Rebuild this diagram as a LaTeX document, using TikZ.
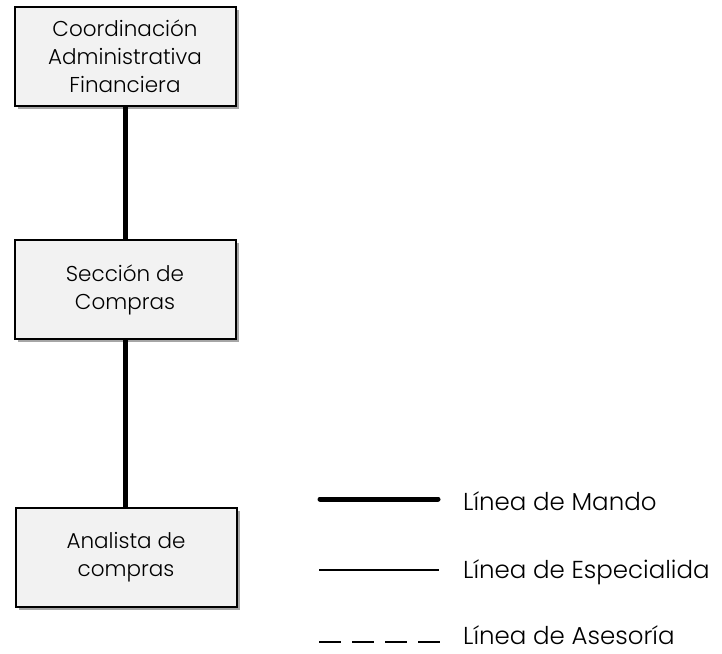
\documentclass[tikz,border=0pt]{standalone}
\usepackage{fontspec}
\setmainfont{Poppins}[UprightFont={* Light}]
\begin{document}
\begin{tikzpicture}[x=1pt,y=-1pt,
  orgbox/.style={draw=black, line width=2pt, fill=black!5, minimum width=221pt, minimum height=99pt, align=center, font=\fontsize{21.5}{28}\selectfont, inner sep=0pt},
  shadowbox/.style={fill=black!35, draw=none, minimum width=221pt, minimum height=99pt, inner sep=0pt},
  mando/.style={line width=5pt},
  espec/.style={line width=2pt},
  ases/.style={line width=2.2pt, dash pattern=on 22pt off 11pt},
  legtext/.style={anchor=west, font=\fontsize{24.5}{28}\selectfont, inner sep=0pt}
]
\useasboundingbox (0,0) rectangle (722,653);
% shadows
\node[shadowbox] at (128.5,59.5) {};
\node[shadowbox] at (128.5,292.5) {};
\node[shadowbox] at (129.5,560.5) {};
% boxes
\node[orgbox] (a) at (125,56.5) {Coordinación\\Administrativa\\Financiera};
\node[orgbox] (b) at (125,289.5) {Sección de\\Compras};
\node[orgbox] (c) at (126,557.5) {Analista de\\compras};
% connectors
\draw[mando] (a.south) -- (b.north);
\draw[mando] (b.south) -- (c.north -| b.south);
% legend
\coordinate (m1) at (320,499);
\coordinate (m2) at (438,499);
\coordinate (e1) at (319,570);
\coordinate (e2) at (439,570);
\coordinate (s1) at (319,642);
\coordinate (s2) at (440,642);
\draw[mando, line cap=round] (m1) -- (m2);
\draw[espec] (e1) -- (e2);
\draw[ases] (s1) -- (s2);
\node[legtext] (lm) at (463,501) {Línea de Mando};
\node[legtext] (le) at (463,572) {Línea de Especialida};
\node[legtext] (la) at (463,635) {Línea de Asesoría};
\end{tikzpicture}
\end{document}
